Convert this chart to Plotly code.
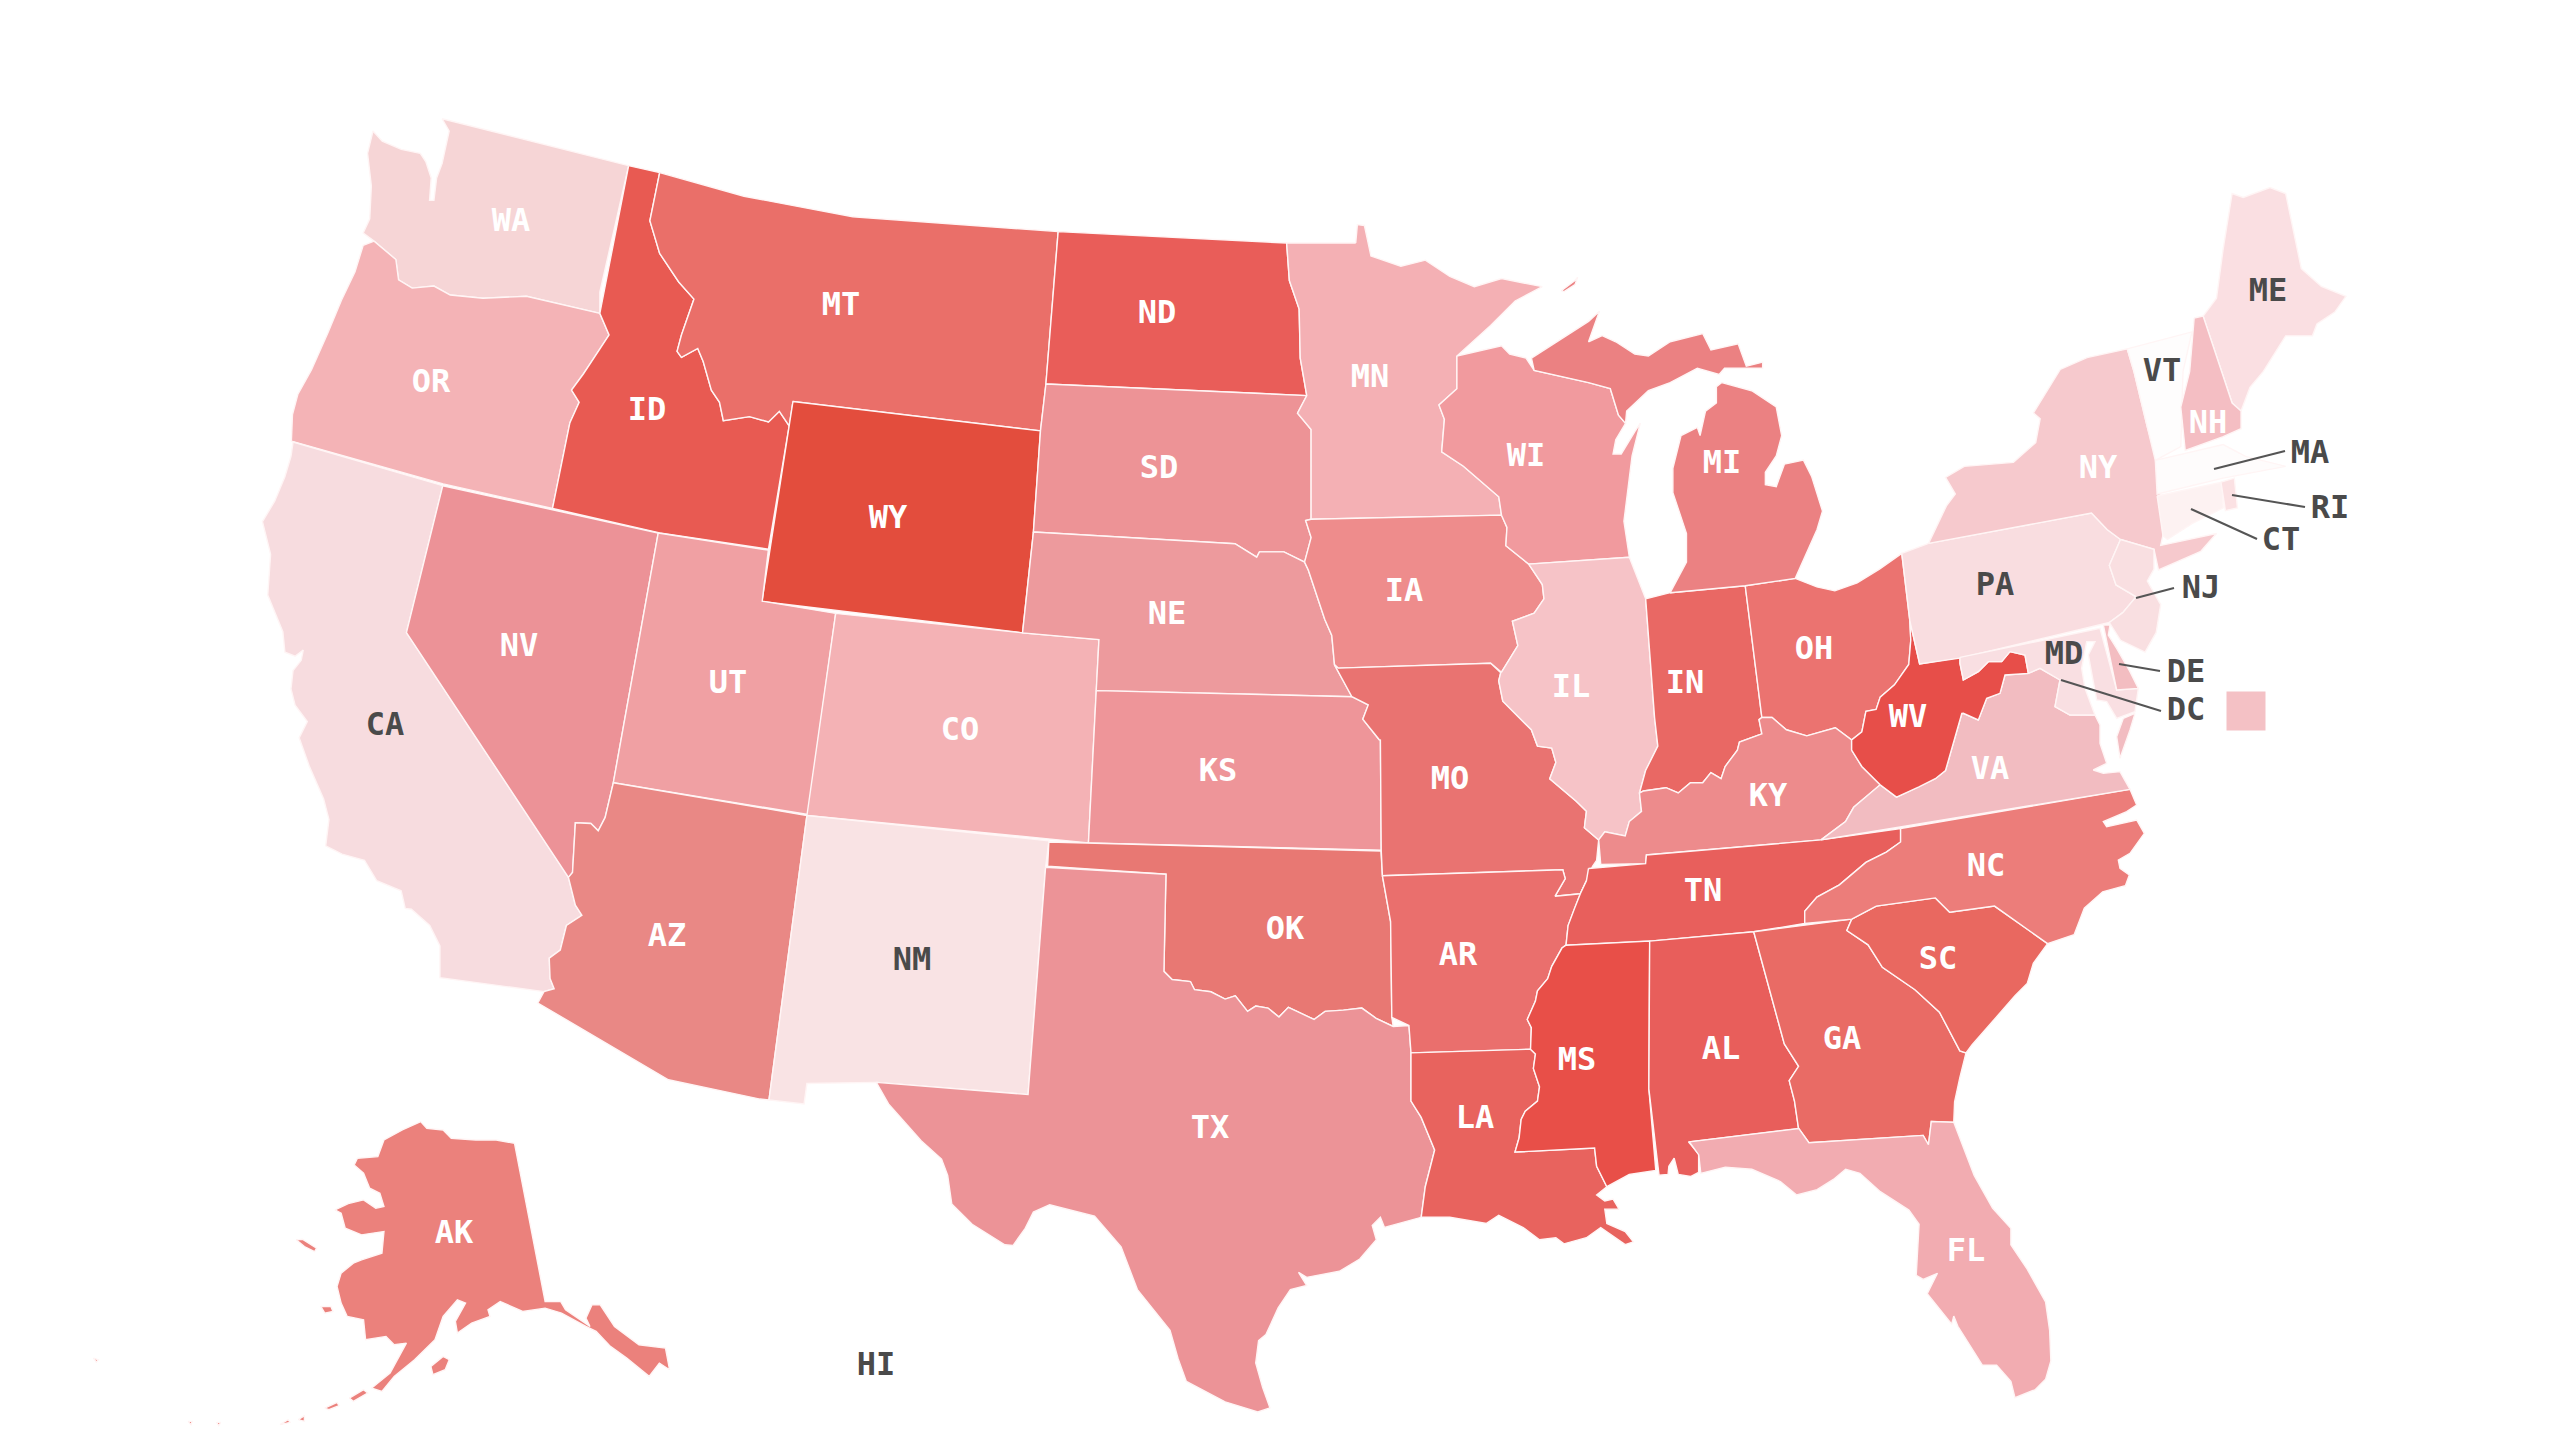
import plotly.graph_objects as go


def crop(x0, y0, sx, sy):
    return lambda pts: [(x0 + x * sx, y0 + y * sy) for x, y in pts]

nw = crop(200, 80, .544, .408)
nc = crop(1050, 150, .544, .408)
ne = crop(1750, 150, .4464, .3954)
sw = crop(240, 440, .408, .408)
st = crop(760, 800, .408, .408)
se = crop(1360, 640, .408, .408)
sf = crop(1660, 800, .408, .408)
ma = crop(1960, 600, 1 / 3, 1 / 3)
ak = crop(80, 1100, .408, .333)

# shared borders
WA_OR = nw([(320, 395), (360, 440), (365, 490), (390, 510), (430, 505), (460, 527), (520, 535), (600, 530), (735, 572)])
OR_ID = nw([(735, 572), (752, 625), (725, 680), (705, 720), (683, 760), (697, 790), (680, 840), (648, 1050)])
ID_MT = nw([(845, 227), (827, 345), (845, 425), (880, 495), (908, 537), (885, 625), (877, 665), (885, 680), (915, 658),
            (925, 690), (940, 760), (955, 790), (962, 835), (1010, 825), (1045, 838), (1065, 812), (1083, 848)])
NV_AZ = sw([(915, 840), (895, 925), (878, 958), (860, 940), (822, 938), (815, 1060), (805, 1072)])
CA_AZ = sw([(805, 1072), (822, 1140), (838, 1165), (800, 1190), (785, 1250), (758, 1270), (760, 1320), (770, 1345), (745, 1352)])
TX_OK = st([(990, 420), (1010, 440), (1055, 445), (1065, 465), (1105, 470), (1140, 488), (1165, 480), (1195, 518), (1215, 505),
            (1245, 510), (1272, 532), (1295, 508), (1320, 520), (1358, 538), (1385, 518), (1430, 515), (1475, 510), (1510, 535), (1552, 555)])
OK_AR = se([(55, 578), (75, 690), (78, 925)])
TX_LA = se([(125, 1012), (125, 1130), (150, 1170), (183, 1250), (160, 1340), (150, 1415)])
ND_MN = nc([(435, 228), (440, 320), (458, 390), (460, 510), (472, 602)])
SD_MN = nc([(472, 602), (455, 645), (480, 685), (480, 905)])
SD_NE = nc([(340, 965), (380, 998), (385, 985), (430, 985), (468, 1010)])
SD_IA = nc([(480, 905), (470, 908), (480, 950), (468, 1010)])
NE_IA = nc([(468, 1010), (475, 1030), (490, 1090), (505, 1150), (518, 1190), (523, 1262)])
NE_MO = nc([(523, 1262), (555, 1340)])
KS_MO = nc([(555, 1340), (585, 1360), (575, 1395), (605, 1445)]) + se([(50, 245), (52, 515)])
MN_WI = nc([(748, 505), (748, 585), (715, 625), (725, 660), (720, 740), (760, 775), (825, 850), (830, 895)])
WI_IA = nc([(830, 895), (840, 925), (838, 970), (880, 1015)])
IA_IL = nc([(880, 1015), (905, 1065), (908, 1100), (890, 1135), (850, 1155), (860, 1215), (830, 1280)])
MO_IL = se([(345, 80), (340, 100), (350, 150), (420, 220), (435, 260), (470, 265), (480, 300), (465, 340), (530, 395), (555, 420), (550, 460), (585, 490)])
IL_KY = se([(585, 490), (600, 470), (650, 480), (660, 445), (690, 420), (685, 375)])
IL_IN = se([(685, 375), (700, 320), (730, 260), (722, 190)]) + nc([(1095, 1100)])
IN_KY = se([(685, 375), (695, 370), (750, 362), (780, 375), (810, 350), (840, 350), (860, 325), (885, 340), (895, 310),
            (925, 270), (930, 250), (985, 230), (978, 195), (985, 190)])
OH_KY = se([(985, 190), (1010, 190), (1045, 220), (1095, 235), (1130, 225), (1165, 215), (1205, 245)])
OH_WV = se([(1350, 0), (1345, 60), (1310, 110), (1275, 140), (1265, 170), (1240, 175), (1230, 225), (1205, 245)])
KY_WV = se([(1205, 245), (1205, 270), (1230, 310), (1275, 355)])
KY_VA = se([(1275, 355), (1210, 410), (1190, 445), (1130, 490)])
WV_VA = se([(1275, 355), (1315, 385), (1370, 360), (1410, 340), (1435, 320), (1455, 250), (1475, 180)]) + \
    ma([(10, 340), (55, 360), (80, 295), (120, 280), (135, 225), (205, 220)])
WV_MD = ma([(205, 220), (195, 165), (150, 155), (125, 185), (85, 185), (55, 215), (10, 240), (0, 190), (0, 172)])
TN_NC = se([(1325, 462), (1325, 495), (1290, 520), (1240, 545), (1175, 600), (1120, 630), (1090, 665), (1090, 695)])
AR_TN = se([(555, 590), (540, 622), (525, 660), (510, 700), (505, 748)])
AR_MS = se([(505, 748), (495, 755), (470, 800), (460, 830), (435, 860), (430, 885), (410, 930), (420, 950), (418, 1003)])
LA_MS = se([(418, 1003), (430, 1015), (425, 1050), (440, 1095), (435, 1130), (405, 1155), (395, 1175), (390, 1220), (380, 1255),
            (575, 1245), (580, 1290), (605, 1340)])
AL_GA = se([(965, 715), (1010, 880), (1040, 990), (1075, 1045), (1052, 1080), (1065, 1130), (1075, 1198)])
GA_SC = sf([(458, 320), (510, 355), (545, 410), (625, 465), (685, 520), (735, 615), (750, 620)])
SC_NC = sf([(470, 292), (530, 260), (675, 240), (710, 275), (820, 260), (950, 352)])
GA_FL = sf([(340, 805), (365, 840), (645, 822), (658, 845), (665, 788), (720, 790)])
MD_VA = ma([(205, 220), (240, 205), (300, 240), (285, 320), (330, 345), (405, 345)])

# state outlines
WA = [nw([(445, 95), (788, 210), (735, 520)]) + WA_OR[::-1] + nw([(300, 375), (312, 340), (315, 260), (308, 180), (318, 125), (335, 150), (370, 170),
      (405, 180), (415, 200), (425, 240), (422, 295), (430, 295), (435, 240), (445, 205), (458, 125)])]
OR = [WA_OR + OR_ID + nw([(447, 990), (168, 885), (170, 820), (180, 770), (205, 710), (235, 620), (260, 540), (285, 470), (300, 405)])]
CA = [sw([(130, 5), (497, 112), (408, 472)]) + CA_AZ + sw([(490, 1318), (490, 1240), (465, 1190), (420, 1150), (405, 1148), (395, 1105), (335, 1080), (305, 1030), (250, 1015),
      (210, 995), (218, 930), (205, 880), (170, 800), (145, 730), (165, 690), (135, 650), (125, 610), (130, 565), (150, 540),
      (155, 515), (135, 530), (110, 520), (105, 470), (68, 380), (75, 280), (55, 200), (85, 150), (110, 90), (125, 40)])]
ID = [nw([(788, 210)]) + ID_MT + nw([(1045, 1150), (845, 1110)]) + OR_ID[::-1]]
MT = [ID_MT + nw([(1090, 788), (1545, 860), (1555, 745)]) + nc([(15, 200)]) + nw([(1200, 335), (1000, 285)])]
WY = [nw([(1090, 788), (1545, 860), (1532, 1108), (1512, 1355), (1033, 1278)])]
NV = [sw([(497, 112), (1025, 228)]) + NV_AZ + sw([(408, 472)])]
UT = [sw([(1025, 228), (1295, 270), (1280, 395), (1460, 425), (1392, 918)]) + NV_AZ[:1]]
CO = [sw([(1460, 425)]) + nw([(1512, 1355)]) + nc([(90, 1200), (85, 1325)]) + st([(805, 105), (115, 38)])]
AZ = [NV_AZ + CA_AZ + sw([(730, 1380), (1050, 1568)]) + st([(0, 733), (22, 735), (115, 38)])]
NM = [st([(115, 38), (708, 100), (700, 165), (657, 722), (285, 692), (115, 695), (108, 745), (22, 735)])]
ND = [nc([(15, 200)]) + ND_MN + nw([(1555, 745)])]
SD = [nw([(1555, 745), (1545, 860), (1532, 1108)]) + SD_NE + SD_IA[::-1] + SD_MN[::-1]]
NE = [nw([(1532, 1108)]) + SD_NE + NE_IA + NE_MO + nc([(85, 1325), (90, 1200)]) + nw([(1512, 1355)])]
KS = [nc([(85, 1325)]) + KS_MO + st([(805, 105)])]
OK = [st([(708, 103), (1522, 125)]) + OK_AR + TX_OK[::-1] + st([(995, 182), (705, 162)])]
TX = [st([(700, 165), (995, 182)]) + TX_OK + se([(120, 945)]) + TX_LA + se([(60, 1440), (50, 1415), (30, 1435), (40, 1470)]) +
      st([(1470, 1125), (1420, 1155), (1340, 1170), (1320, 1158), (1340, 1190), (1300, 1200), (1270, 1245), (1240, 1310), (1222, 1325), (1215, 1380),
          (1232, 1440), (1250, 1490), (1220, 1500), (1140, 1475), (1045, 1425), (1025, 1370), (1005, 1300), (965, 1250), (925, 1200),
          (885, 1095), (820, 1020), (760, 1005), (710, 992), (670, 1010), (650, 1050), (620, 1092), (600, 1090), (520, 1040), (470, 990),
          (460, 920), (445, 880), (395, 835), (345, 780), (315, 745), (285, 692), (657, 722)])]
MN = [nc([(562, 228), (565, 183), (578, 185), (590, 260), (645, 285), (690, 270), (735, 310), (780, 335), (830, 315), (905, 335), (855, 370), (810, 430)]) +
      MN_WI + SD_MN[::-1] + ND_MN[::-1]]
IA = [SD_IA + NE_IA + nc([(530, 1270), (810, 1258), (830, 1280)]) + IA_IL[::-1] + WI_IA[::-1]]
MO = [NE_MO + KS_MO + OK_AR[:1] + se([(497, 563), (503, 585), (478, 628), (540, 622), (555, 590), (570, 555), (580, 540)]) + MO_IL[::-1] + nc([(810, 1258), (530, 1270)])]
AR = [OK_AR + se([(120, 945), (125, 1012)]) + AR_MS[::-1] + AR_TN[::-1] + se([(540, 622), (478, 628), (503, 585), (497, 563)])]
LA = [TX_LA + se([(220, 1415), (310, 1430), (340, 1410), (400, 1440), (440, 1470), (480, 1465), (500, 1480), (555, 1465), (590, 1440), (650, 1482), (670, 1475),
                  (650, 1450), (605, 1430), (600, 1395), (635, 1395), (620, 1370), (600, 1375), (580, 1360)]) + LA_MS[::-1]]
WI = [MN_WI + WI_IA + nc([(1065, 998), (1055, 910), (1060, 860), (1070, 750), (1085, 670), (1075, 690), (1050, 745), (1035, 745), (1040, 710), (1058, 670),
                          (1045, 650), (1030, 585), (990, 570), (890, 540), (875, 510), (845, 500), (830, 480)])]
IL = [IA_IL[::-1] + nc([(1065, 998)]) + IL_IN[::-1] + IL_KY[::-1] + MO_IL[::-1][1:]]
IN = [nc([(1095, 1100), (1140, 1085), (1278, 1068)]) + se([(985, 190)]) + IN_KY[::-1] + IL_IN[:-1]]
OH = [nc([(1278, 1068), (1370, 1050)]) + ne([(150, 1105), (190, 1115), (240, 1095), (290, 1060), (340, 1020), (358, 1190)]) + OH_WV + OH_KY[::-1]]
MI = [nc([(885, 510), (920, 480), (990, 420), (1010, 395), (990, 470), (1015, 455), (1040, 470), (1075, 500), (1100, 505), (1140, 470), (1200, 450), (1215, 490),
          (1265, 475), (1280, 530), (1310, 520), (1310, 535), (1240, 535), (1230, 550), (1190, 535), (1140, 570), (1100, 590), (1060, 640), (1058, 670),
          (1045, 650), (1030, 585), (990, 570), (890, 540)]),
      nc([(1235, 570), (1290, 590), (1335, 630), (1345, 700), (1335, 750), (1315, 790), (1315, 820), (1335, 825), (1350, 770), (1385, 760), (1400, 800), (1420, 885),
          (1410, 930), (1390, 990), (1370, 1050), (1278, 1068), (1140, 1085), (1170, 1010), (1170, 940), (1145, 840), (1145, 780), (1160, 700), (1190, 680),
          (1195, 700), (1205, 640), (1225, 620), (1225, 580)]),
      nc([(940, 345), (965, 320), (970, 312), (965, 330), (945, 347)])]
KY = [se([(590, 550)]) + IL_KY + IN_KY + OH_KY + KY_WV[1:] + KY_VA[1:] + se([(702, 527), (700, 548)])]
TN = [se([(560, 560), (700, 548), (702, 527)]) + KY_VA[-1:] + TN_NC + se([(965, 715), (710, 738)]) + AR_TN[::-1]]
MS = [AR_MS[:1] + se([(710, 738), (708, 1100), (725, 1300), (660, 1310)]) + LA_MS[::-1] + AR_MS[::-1]]
AL = [se([(710, 738)]) + AL_GA + se([(805, 1230), (830, 1260), (830, 1305), (810, 1315), (780, 1310), (770, 1270), (757, 1290), (755, 1310), (733, 1312), (708, 1100)])]
GA = [AL_GA + GA_FL + sf([(722, 740), (735, 680)]) + GA_SC[::-1] + sf([(470, 292)])]
SC = [SC_NC + sf([(915, 400), (900, 450), (870, 480), (800, 560), (765, 600)]) + GA_SC[::-1]]
NC = [TN_NC + sf([(470, 292)]) + SC_NC + sf([(1015, 330), (1040, 265), (1085, 225), (1140, 210)]) +
      ma([(495, 860), (508, 825), (480, 805), (475, 780), (510, 760), (553, 700), (530, 660), (440, 680), (430, 665), (500, 635), (530, 615), (510, 568)])]
VA = [KY_VA[::-1] + WV_VA + MD_VA[1:] + ma([(420, 375), (420, 430), (440, 490), (400, 510), (430, 520), (480, 515), (510, 568)]),
      ma([(525, 340), (510, 390), (480, 475), (470, 410), (490, 355)])]
WV = [OH_WV + KY_WV + WV_VA + WV_MD + ne([(380, 1300), (358, 1190)])]
FL = [sf([(72, 838)]) + GA_FL + sf([(735, 830), (770, 920), (815, 1000), (860, 1050), (860, 1090), (900, 1150), (945, 1230), (955, 1300), (958, 1375), (945, 1420),
                                    (920, 1445), (870, 1465), (860, 1425), (825, 1385), (790, 1385), (755, 1330), (730, 1290), (720, 1265), (715, 1285), (655, 1210),
                                    (680, 1160), (645, 1175), (628, 1165), (635, 1040), (610, 1005), (540, 960), (490, 915), (455, 905), (425, 930), (385, 955),
                                    (335, 968), (295, 935), (225, 905), (160, 900), (100, 915), (95, 870)])]
PA = [ne([(340, 1020), (400, 995), (765, 918), (800, 960), (830, 985), (805, 1050), (820, 1100), (865, 1130), (835, 1170), (805, 1195), (470, 1285), (380, 1300), (358, 1190)])]
NY = [ne([(400, 995), (440, 900), (460, 870), (438, 828), (480, 800), (590, 790), (640, 740), (650, 680), (635, 665), (695, 555), (755, 525), (845, 503), (860, 560),
          (880, 650), (890, 700), (910, 780), (920, 880), (925, 975), (920, 1000), (1045, 970), (1010, 1015), (960, 1040), (915, 1062), (905, 1010), (830, 985),
          (800, 960), (765, 918)])]
NJ = [ne([(830, 985), (905, 1010), (905, 1060), (890, 1090), (920, 1150), (910, 1220), (885, 1270), (830, 1240), (805, 1195), (835, 1170), (865, 1130), (820, 1100), (805, 1050)])]
CT = [ne([(912, 875), (1058, 840), (1060, 905), (990, 945), (935, 985), (925, 975)])]
RI = [ne([(1055, 840), (1085, 830), (1092, 905), (1065, 912)])]
MA = [ne([(908, 785), (1060, 745), (1110, 775), (1200, 800), (1060, 830), (912, 870)])]
VT = [ne([(845, 503), (990, 460), (970, 560), (965, 750), (908, 785), (890, 700), (880, 650), (860, 560)])]
ME = [ne([(1015, 420), (1045, 375), (1060, 250), (1080, 110), (1105, 120), (1165, 95), (1200, 110), (1235, 300), (1280, 345), (1335, 370), (1310, 410), (1270, 440),
          (1260, 470), (1200, 470), (1150, 560), (1120, 600), (1100, 660), (1080, 640)])]
NH = [ne([(995, 425), (1015, 420), (1080, 640), (1100, 660), (1100, 705), (1060, 725), (975, 760), (965, 650), (985, 560)])]
MD = [ma([(0, 172), (420, 85), (470, 270), (535, 265), (525, 335), (470, 355), (440, 305), (410, 300), (385, 165), (405, 125), (380, 125), (365, 205), (375, 265), (405, 345)]) +
      MD_VA[::-1] + WV_MD[:-1]]
DE = [ma([(430, 75), (450, 75), (445, 105), (470, 145), (510, 215), (535, 265), (470, 270)])]
AK = [ak([(835, 65), (850, 85), (890, 90), (910, 115), (970, 120), (1020, 120), (1065, 130), (1140, 605), (1178, 605), (1190, 630), (1250, 680), (1240, 655), (1255, 615),
          (1275, 615), (1310, 680), (1370, 735), (1435, 745), (1445, 810), (1420, 790), (1395, 830), (1340, 775), (1300, 740), (1265, 695), (1240, 680), (1180, 640),
          (1140, 625), (1085, 635), (1030, 605), (1000, 630), (1005, 650), (960, 670), (925, 700), (920, 665), (945, 610), (925, 600), (890, 650), (870, 720), (820, 780),
          (770, 830), (740, 875), (715, 865), (760, 820), (800, 730), (770, 735), (750, 710), (700, 720), (695, 660), (655, 650), (640, 610), (630, 560), (640, 520),
          (670, 490), (690, 480), (740, 460), (745, 395), (690, 405), (650, 385), (640, 340), (625, 330), (660, 310), (695, 300), (725, 325), (745, 320), (735, 280),
          (710, 265), (695, 220), (672, 195), (680, 175), (730, 170), (745, 120), (790, 90)]),
      ak([(530, 420), (545, 418), (580, 445), (575, 455), (550, 440)]),
      ak([(590, 620), (615, 620), (620, 635), (600, 640)]),
      ak([(860, 800), (890, 770), (905, 780), (895, 810), (865, 825)]),
      ak([(660, 895), (695, 870), (705, 880), (670, 905)]),
      ak([(600, 925), (630, 908), (635, 918), (610, 930)]),
      ak([(490, 975), (510, 960), (515, 968)]),
      ak([(535, 960), (550, 948), (550, 965)]),
      ak([(265, 965), (275, 965), (272, 975)]),
      ak([(335, 968), (345, 968), (340, 978)]),
      ak([(33, 775), (45, 780), (40, 787)])]

STATES = {'WA': WA, 'OR': OR, 'CA': CA, 'ID': ID, 'MT': MT, 'WY': WY, 'NV': NV, 'UT': UT, 'CO': CO, 'AZ': AZ, 'NM': NM, 'ND': ND, 'SD': SD,
          'NE': NE, 'KS': KS, 'OK': OK, 'TX': TX, 'MN': MN, 'IA': IA, 'MO': MO, 'AR': AR, 'LA': LA, 'WI': WI, 'IL': IL, 'IN': IN, 'OH': OH,
          'MI': MI, 'KY': KY, 'TN': TN, 'MS': MS, 'AL': AL, 'GA': GA, 'SC': SC, 'NC': NC, 'VA': VA, 'WV': WV, 'FL': FL, 'PA': PA, 'NY': NY,
          'NJ': NJ, 'CT': CT, 'RI': RI, 'MA': MA, 'VT': VT, 'ME': ME, 'NH': NH, 'MD': MD, 'DE': DE, 'AK': AK}

COLORS = {'WA': '#f6d5d6', 'OR': '#f4b3b6', 'CA': '#f7dcdf', 'ID': '#e85a52', 'MT': '#ea6f69', 'WY': '#e34d3d', 'NV': '#ec9297', 'UT': '#f0a0a3',
          'CO': '#f4b2b5', 'AZ': '#e98885', 'NM': '#f9e3e4', 'ND': '#e95d59', 'SD': '#ed9396', 'NE': '#ed9a9d', 'KS': '#ee9599', 'OK': '#e87873',
          'TX': '#ec9397', 'MN': '#f4b0b4', 'IA': '#ee8c8c', 'MO': '#e97371', 'AR': '#ea6f6d', 'LA': '#e8635e', 'WI': '#f19a9e', 'IL': '#f6c3c7',
          'IN': '#e96864', 'OH': '#eb7370', 'MI': '#eb8182', 'KY': '#ed8b8c', 'TN': '#e85f5c', 'MS': '#e84f48', 'AL': '#e85e5b', 'GA': '#e96b65',
          'SC': '#e96860', 'NC': '#ec7d7a', 'VA': '#f2bcc1', 'WV': '#e74e49', 'FL': '#f2acb1', 'PA': '#f9dde0', 'NY': '#f6c9cd', 'NJ': '#f9dfe1',
          'CT': '#fdf2f2', 'RI': '#fbe1e3', 'MA': '#fefcfc', 'VT': '#fefdfd', 'ME': '#fadfe2', 'NH': '#f4bec3', 'MD': '#f9dfe2', 'DE': '#f3bdc1',
          'AK': '#eb817c'}
DC_COLOR = '#f4c1c5'

LIGHT_LABELS = ['WA', 'OR', 'ID', 'MT', 'WY', 'NV', 'UT', 'CO', 'AZ', 'ND', 'SD', 'NE', 'KS', 'OK', 'TX', 'MN', 'IA', 'MO', 'AR', 'LA', 'WI', 'IL',
                'IN', 'OH', 'MI', 'KY', 'TN', 'MS', 'AL', 'GA', 'SC', 'NC', 'VA', 'WV', 'FL', 'NY', 'NH', 'AK']
LIGHT_X = [511, 431, 647, 841, 888, 519, 728, 960, 667, 1157, 1159, 1167, 1218, 1285, 1210, 1370, 1404, 1450, 1458, 1475, 1526, 1571,
           1685, 1814, 1722, 1768, 1703, 1577, 1721, 1842, 1938, 1986, 1990, 1908, 1966, 2098, 2208, 454]
LIGHT_Y = [223, 384, 412, 307, 520, 648, 685, 732, 938, 315, 470, 616, 773, 931, 1130, 379, 593, 781, 957, 1120, 458, 689,
           685, 651, 465, 798, 893, 1062, 1051, 1041, 961, 868, 771, 719, 1253, 470, 425, 1235]

DARK_LABELS = ['CA', 'NM', 'PA', 'ME', 'VT', 'MA', 'RI', 'CT', 'NJ', 'MD', 'DE', 'DC', 'HI']
DARK_X = [385, 912, 1995, 2268, 2162, 2310, 2330, 2281, 2201, 2064, 2186, 2186, 876]
DARK_Y = [727, 962, 587, 293, 373, 455, 510, 542, 590, 656, 674, 712, 1367]

# leader lines from the small north eastern states to their labels
LEADER_X = [2214, 2285, None, 2232, 2305, None, 2191, 2257, None, 2136, 2174, None, 2119, 2160, None, 2061, 2161]
LEADER_Y = [469, 451, None, 495, 507, None, 509, 539, None, 598, 588, None, 664, 671, None, 680, 711]

fig = go.Figure()

for code, parts in STATES.items():
    xs, ys = [], []
    for part in parts:
        xs += [p[0] for p in part] + [part[0][0], None]
        ys += [p[1] for p in part] + [part[0][1], None]
    fig.add_trace(go.Scatter(x=xs, y=ys, mode='lines', fill='toself', name=code, fillcolor=COLORS[code],
                             line=dict(color='#fff5f5', width=1.4), hoverinfo='name', showlegend=False))

# DC is too small to see on the map so it gets a swatch
fig.add_trace(go.Scatter(x=[2246], y=[711], mode='markers', name='DC', hoverinfo='name', showlegend=False,
                         marker=dict(symbol='square', size=39, color=DC_COLOR)))

fig.add_trace(go.Scatter(x=LEADER_X, y=LEADER_Y, mode='lines', line=dict(color='#555555', width=2),
                         hoverinfo='skip', showlegend=False))
fig.add_trace(go.Scatter(x=LIGHT_X, y=LIGHT_Y, mode='text', text=LIGHT_LABELS, hoverinfo='skip', showlegend=False,
                         textfont=dict(family='DejaVu Sans Mono', size=32, color='#ffffff', weight='bold')))
fig.add_trace(go.Scatter(x=DARK_X, y=DARK_Y, mode='text', text=DARK_LABELS, hoverinfo='skip', showlegend=False,
                         textfont=dict(family='DejaVu Sans Mono', size=32, color='#4a4a4a', weight='bold')))

fig.update_layout(width=2560, height=1440, margin=dict(l=0, r=0, t=0, b=0),
                  paper_bgcolor='white', plot_bgcolor='white',
                  xaxis=dict(range=[0, 2560], visible=False),
                  yaxis=dict(range=[1440, 0], visible=False))

fig.write_html("out.html", config={'displayModeBar': False}, post_script="document.body.style.margin='0';")
